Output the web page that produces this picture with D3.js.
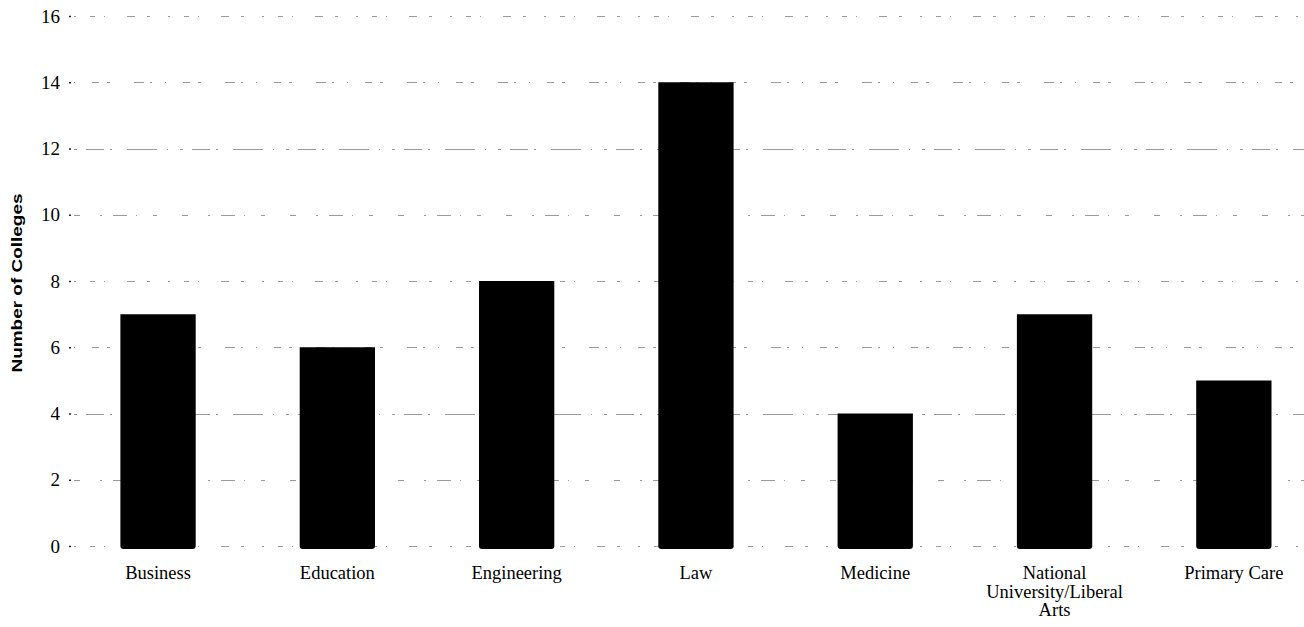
<!DOCTYPE html>
<html>
<head>
<meta charset="utf-8">
<script src="https://cdn.jsdelivr.net/npm/d3@7"></script>
<style>
  html, body { margin: 0; padding: 0; background: #fff; }
  svg { display: block; }
</style>
</head>
<body>
<svg id="chart" width="1304" height="627"></svg>
<script>
// Colleges counted in each ranking category
const categories = ["Business", "Education", "Engineering", "Law", "Medicine",
                    "National University/Liberal Arts", "Primary Care"];
const values = [7, 6, 8, 14, 4, 7, 5];
const yTicks = [0, 2, 4, 6, 8, 10, 12, 14, 16];
const yTitle = "Number of Colleges";

const W = 1304, H = 627;
const svg = d3.select("#chart");

const x = d3.scaleBand()
  .domain(categories)
  .range([68.4, 1323.5])
  .paddingInner(0.58)
  .paddingOuter(0.29);

const y = d3.scaleLinear()
  .domain([0, 16])
  .range([546, 16]);

const serif = "'Liberation Serif', 'Times New Roman', serif";

// Faint, broken horizontal gridlines
const dashes = [
  "2,14,5,9,1,22,8,12,3,18",
  "6,20,2,11,14,9,1,16,4,25",
  "3,9,18,6,2,15,30,10,1,12",
  "1,17,7,8,3,24,10,6,2,13"
];
svg.append("g")
  .selectAll("line")
  .data(yTicks)
  .join("line")
  .attr("x1", 74)
  .attr("x2", W)
  .attr("y1", d => Math.round(y(d)) + 0.5)
  .attr("y2", d => Math.round(y(d)) + 0.5)
  .attr("stroke", "#9a9a9a")
  .attr("stroke-width", 1)
  .attr("stroke-dasharray", (d, i) => dashes[i % dashes.length]);

// Y axis: tick labels with tiny tick dots, no domain line
const yAxis = svg.append("g")
  .attr("transform", "translate(71,0)")
  .call(d3.axisLeft(y).tickValues(yTicks).tickSize(2).tickPadding(9));
yAxis.select(".domain").remove();
yAxis.selectAll(".tick line").attr("stroke", "#222").attr("stroke-width", 1.5);
yAxis.selectAll(".tick text")
  .attr("font-family", serif)
  .attr("font-size", 19)
  .attr("fill", "#000");

// Bars with slightly rounded bottom corners
const r = 3;
svg.append("g")
  .selectAll("path")
  .data(values)
  .join("path")
  .attr("fill", "#000")
  .attr("d", (v, i) => {
    const x0 = x(categories[i]), w = x.bandwidth();
    const top = y(v), bot = y(0) + 3;
    return `M${x0},${top}H${x0 + w}V${bot - r}Q${x0 + w},${bot} ${x0 + w - r},${bot}` +
           `H${x0 + r}Q${x0},${bot} ${x0},${bot - r}Z`;
  });

// Category labels, wrapped onto several lines when wide
const labelSize = 18.5;
function wrapWords(label, maxW, ctx) {
  const words = label.split(" ");
  const lines = [];
  let cur = "";
  words.forEach(w => {
    const test = cur ? cur + " " + w : w;
    if (cur && ctx.measureText(test).width > maxW) { lines.push(cur); cur = w; }
    else cur = test;
  });
  if (cur) lines.push(cur);
  return lines;
}
const ctx = document.createElement("canvas").getContext("2d");
ctx.font = labelSize + "px " + serif;

const labels = svg.append("g")
  .selectAll("text")
  .data(categories)
  .join("text")
  .attr("font-family", serif)
  .attr("font-size", labelSize)
  .attr("fill", "#000")
  .attr("text-anchor", "middle")
  .attr("transform", d => `translate(${x(d) + x.bandwidth() / 2},579)`);
labels.each(function(d) {
  const lines = wrapWords(d, 150, ctx);
  d3.select(this).selectAll("tspan")
    .data(lines)
    .join("tspan")
    .attr("x", 0)
    .attr("dy", (l, i) => i === 0 ? 0 : 18.5)
    .text(l => l);
});

// Y axis title
svg.append("text")
  .attr("transform", `translate(22,${(y(0) + y(16)) / 2 + 2}) rotate(-90)`)
  .attr("text-anchor", "middle")
  .attr("font-family", "'Liberation Sans', Arial, sans-serif")
  .attr("font-weight", "bold")
  .attr("font-size", 15)
  .attr("textLength", 179)
  .attr("lengthAdjust", "spacingAndGlyphs")
  .attr("fill", "#000")
  .text(yTitle);
</script>
</body>
</html>
